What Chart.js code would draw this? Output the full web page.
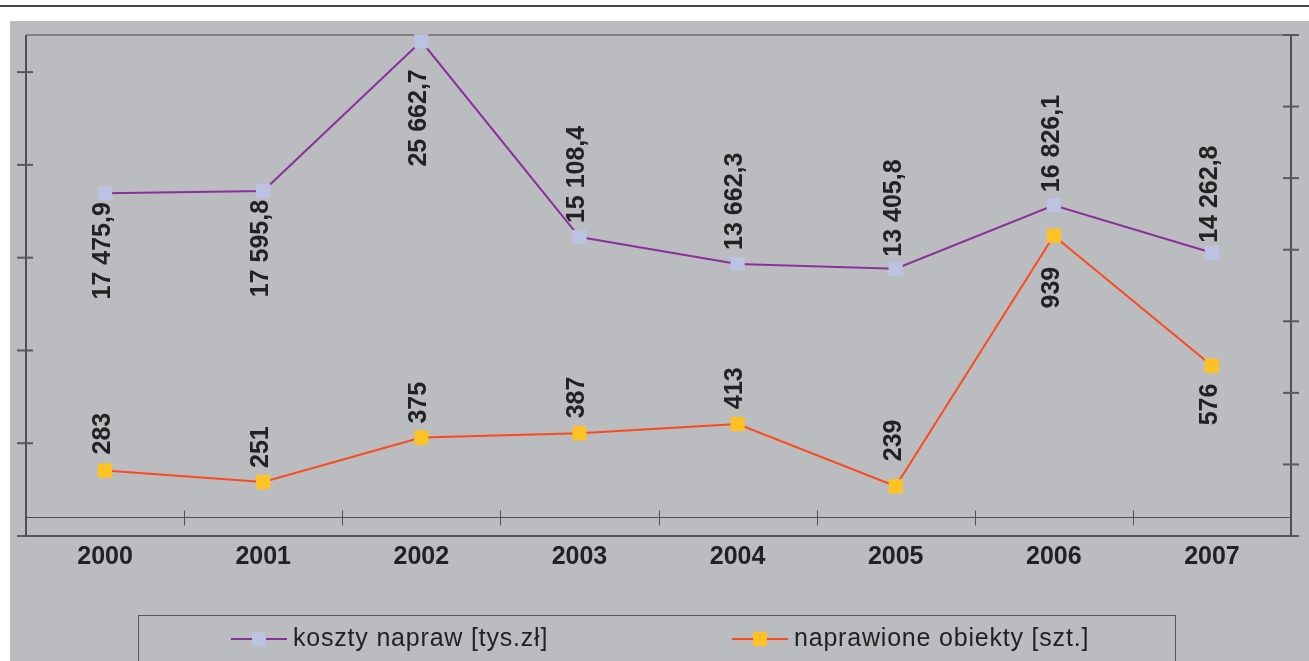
<!DOCTYPE html>
<html>
<head>
<meta charset="utf-8">
<script src="https://cdn.jsdelivr.net/npm/chart.js@4.4.0/dist/chart.umd.min.js"></script>
<style>
  html, body { margin: 0; padding: 0; background: #fff; }
  canvas { display: block; }
</style>
</head>
<body>
<canvas id="myChart" width="1309" height="661"></canvas>
<script>
// ===== data =====
const years = ['2000', '2001', '2002', '2003', '2004', '2005', '2006', '2007'];
const repairCosts = [17475.9, 17595.8, 25662.7, 15108.4, 13662.3, 13405.8, 16826.1, 14262.8]; // tys. zł
const repairedObjects = [283, 251, 375, 387, 413, 239, 939, 576];                            // szt.
const costLabel = 'koszty napraw [tys.zł]';
const objectsLabel = 'naprawione obiekty [szt.]';
// tick marks on the left axis (printed without numbers)
const costTicks = [-1000, 4000, 9000, 14000, 19000, 24000];

const FONT = 'Arial, "Liberation Sans", sans-serif';
const INK = '#222';

// polish number format: "17 475,9"
function plNumber(v, decimals) {
    const parts = v.toFixed(decimals).split('.');
    const int = parts[0].replace(/\B(?=(\d{3})+(?!\d))/g, ' ');
    return parts[1] ? int + ',' + parts[1] : int;
}

function line(ctx, x1, y1, x2, y2) {
    ctx.beginPath();
    ctx.moveTo(x1, y1);
    ctx.lineTo(x2, y2);
    ctx.stroke();
}

// page background, plot frame, axes with crossing tick marks
const frame = {
    id: 'frame',
    beforeDraw(chart) {
        const ctx = chart.ctx;
        ctx.save();
        ctx.fillStyle = '#fff';
        ctx.fillRect(0, 0, chart.width, chart.height);
        ctx.fillStyle = '#bbbcbf';
        ctx.fillRect(10, 21, chart.width - 10, chart.height - 21);
        ctx.strokeStyle = '#444';
        ctx.lineWidth = 2;
        line(ctx, 0, 6, chart.width, 6);
        ctx.restore();
    },
    beforeDatasetsDraw(chart) {
        const { ctx, chartArea: a, scales } = chart;
        ctx.save();
        ctx.lineWidth = 2;
        ctx.strokeStyle = '#818185';
        line(ctx, a.left, a.top, a.right, a.top);

        ctx.strokeStyle = '#505052';
        line(ctx, a.left, a.top, a.left, a.bottom);
        line(ctx, a.right, a.top, a.right, a.bottom);
        line(ctx, a.left - 9, a.bottom, a.right + 8, a.bottom);

        ctx.strokeStyle = '#5a5a5c';
        scales.y.ticks.forEach(t => {
            const py = scales.y.getPixelForValue(t.value);
            line(ctx, a.left - 9, py, a.left + 7, py);
        });
        scales.y1.ticks.forEach(t => {
            const py = scales.y1.getPixelForValue(t.value);
            line(ctx, a.right - 8, py, a.right + 8, py);
        });

        // category axis crosses the cost axis at zero
        const y0 = Math.round(scales.y.getPixelForValue(0)) + 0.5;
        ctx.lineWidth = 1;
        ctx.strokeStyle = '#505052';
        line(ctx, a.left, y0, a.right, y0);
        for (let i = 1; i < years.length; i++) {
            const px = Math.round((scales.x.getPixelForValue(i - 1) + scales.x.getPixelForValue(i)) / 2) + 0.5;
            line(ctx, px, y0 - 7, px, y0 + 8);
        }
        ctx.restore();
    }
};

// vertical value labels next to each point
const valueLabels = {
    id: 'valueLabels',
    afterDatasetsDraw(chart) {
        const ctx = chart.ctx;
        chart.data.datasets.forEach((ds, di) => {
            const meta = chart.getDatasetMeta(di);
            meta.data.forEach((pt, i) => {
                const below = ds.labelSide[i] === 'b';
                const off = ds.labelOffset[i];
                ctx.save();
                ctx.translate(pt.x - 2, pt.y + (below ? off : -off));
                ctx.rotate(-Math.PI / 2);
                ctx.textAlign = below ? 'right' : 'left';
                ctx.textBaseline = 'middle';
                ctx.font = 'bold 25px ' + FONT;
                ctx.fillStyle = INK;
                ctx.fillText(plNumber(ds.data[i], ds.decimals), 0, 0);
                ctx.restore();
            });
        });
    }
};

// boxed legend under the chart
const boxLegend = {
    id: 'boxLegend',
    afterDraw(chart) {
        const ctx = chart.ctx;
        const entryX = [231, 732];
        const cy = 639;
        ctx.save();
        ctx.strokeStyle = '#58585a';
        ctx.lineWidth = 1;
        ctx.strokeRect(138.5, 615.5, 1037, 80);
        chart.data.datasets.forEach((ds, i) => {
            const x = entryX[i];
            ctx.strokeStyle = ds.borderColor;
            ctx.lineWidth = 2;
            line(ctx, x, cy, x + 56, cy);
            ctx.fillStyle = ds.pointBackgroundColor;
            ctx.fillRect(x + 21, cy - 7, 14, 14);
            ctx.fillStyle = INK;
            ctx.font = '25px ' + FONT;
            ctx.letterSpacing = '0.8px';
            ctx.textAlign = 'left';
            ctx.textBaseline = 'alphabetic';
            ctx.fillText(ds.label, x + 62, cy + 7);
        });
        ctx.restore();
    }
};

const ctx = document.getElementById('myChart').getContext('2d');
new Chart(ctx, {
    type: 'line',
    data: {
        labels: years,
        datasets: [{
            label: costLabel,
            data: repairCosts,
            yAxisID: 'y',
            borderColor: '#8a2f9c',
            borderWidth: 2,
            pointStyle: 'rect',
            pointRadius: 10,
            pointHoverRadius: 10,
            pointBorderWidth: 0,
            pointBackgroundColor: '#bcc3e2',
            tension: 0,
            clip: false,
            decimals: 1,
            labelSide: ['b', 'b', 'b', 'a', 'a', 'a', 'a', 'a'],
            labelOffset: [9, 9, 28, 14, 14, 12, 13, 10]
        }, {
            label: objectsLabel,
            data: repairedObjects,
            yAxisID: 'y1',
            borderColor: '#fb4a1e',
            borderWidth: 2,
            pointStyle: 'rect',
            pointRadius: 10,
            pointHoverRadius: 10,
            pointBorderWidth: 0,
            pointBackgroundColor: '#ffc222',
            tension: 0,
            clip: false,
            decimals: 0,
            labelSide: ['a', 'a', 'a', 'a', 'a', 'a', 'b', 'b'],
            labelOffset: [16, 14, 14, 15, 15, 25, 31, 18]
        }]
    },
    options: {
        responsive: false,
        animation: false,
        devicePixelRatio: 1,
        layout: { padding: { left: 26, right: 18, top: 35, bottom: 85 } },
        plugins: {
            legend: { display: false },
            tooltip: { enabled: false }
        },
        scales: {
            x: {
                offset: true,
                grid: { display: false, drawTicks: false },
                border: { display: false },
                ticks: {
                    color: INK,
                    font: { family: FONT, size: 25, weight: 'bold' },
                    padding: 6,
                    maxRotation: 0,
                    autoSkip: false
                },
                afterFit(scale) { scale.height = 40; }
            },
            y: {
                position: 'left',
                min: -1000,
                max: 26000,
                grid: { display: false },
                border: { display: false },
                ticks: { display: false },
                afterBuildTicks(scale) { scale.ticks = costTicks.map(v => ({ value: v })); },
                afterFit(scale) { scale.width = 0; }
            },
            y1: {
                position: 'right',
                min: 100,
                max: 1500,
                grid: { display: false },
                border: { display: false },
                ticks: { display: false, stepSize: 200 },
                afterFit(scale) { scale.width = 0; }
            }
        }
    },
    plugins: [frame, valueLabels, boxLegend]
});
</script>
</body>
</html>
